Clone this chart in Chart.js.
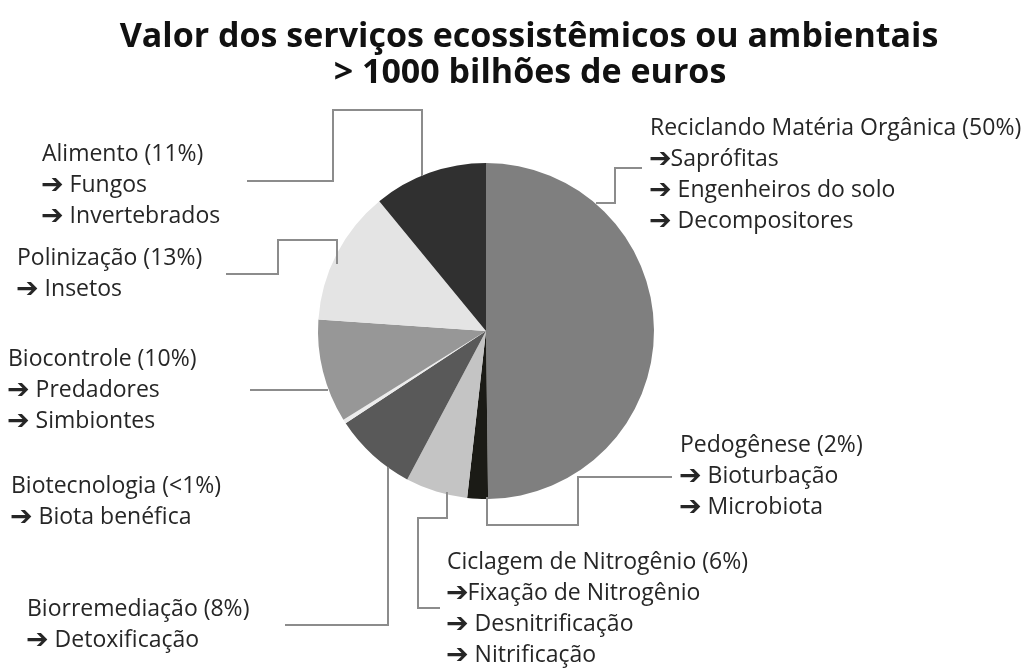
<!DOCTYPE html>
<html>
<head>
<meta charset="utf-8">
<script src="https://cdn.jsdelivr.net/npm/chart.js@4.4.1/dist/chart.umd.min.js"></script>
<style>
html,body{margin:0;padding:0;background:#fff;}
#wrap{width:1023px;height:668px;}
</style>
</head>
<body>
<div id="wrap"><canvas id="c" width="1023" height="668"></canvas></div>
<script>
// ---- data ----
const categories = [
  "Reciclando Matéria Orgânica",
  "Pedogênese",
  "Ciclagem de Nitrogênio",
  "Biorremediação",
  "Biotecnologia",
  "Biocontrole",
  "Polinização",
  "Alimento"
];
const percentLabels = ["50%", "2%", "6%", "8%", "<1%", "10%", "13%", "11%"];
const values = [50, 2, 6, 8, 0.4, 10, 13, 11];
const subItems = [
  ["Saprófitas", "Engenheiros do solo", "Decompositores"],
  ["Bioturbação", "Microbiota"],
  ["Fixação de Nitrogênio", "Desnitrificação", "Nitrificação"],
  ["Detoxificação"],
  ["Biota benéfica"],
  ["Predadores", "Simbiontes"],
  ["Insetos"],
  ["Fungos", "Invertebrados"]
];
const titleLines = ["Valor dos serviços ecossistêmicos ou ambientais", "> 1000 bilhões de euros"];

// ---- styles / layout ----
const sliceColors = ["#7f7f7f", "#1b1b16", "#c4c4c4", "#595959", "#ececec", "#979797", "#e4e4e4", "#303030"];
// label block anchors: [x, y of first line]
const labelPos = [
  [650, 128], [680, 445], [447, 562], [27, 609],
  [11, 486], [8, 359], [17, 258], [42, 154]
];
const noSpaceArrow = [[true, false, false], [false, false], [true, false, false], [false], [false], [false, false], [false], [false, false]];
// leader polylines, offsets relative to pie centre
const leaders = [
  [[156, -163], [129, -163], [129, -128], [110, -128]],
  [[186, 146], [92, 146], [92, 194], [1, 194], [1, 166]],
  [[-46, 277], [-68, 277], [-68, 187], [-39, 187], [-39, 161]],
  [[-201, 294], [-98, 294], [-98, 136]],
  [],
  [[-236, 59], [-158, 59]],
  [[-260, -57], [-208, -57], [-208, -91], [-149, -91], [-149, -67]],
  [[-239, -150], [-153, -150], [-153, -221], [-64, -221], [-64, -155]]
];

const FONT = "'Open Sans', 'DejaVu Sans', sans-serif";

const annotations = {
  id: 'annotations',
  afterDraw(chart) {
    const ctx = chart.ctx;
    const arc = chart.getDatasetMeta(0).data[0];
    const cx = arc.x, cy = arc.y;
    ctx.save();
    // title
    ctx.fillStyle = '#111';
    ctx.textAlign = 'center';
    ctx.textBaseline = 'middle';
    ctx.font = 'bold 34px ' + FONT;
    ctx.fillText(titleLines[0], 529, 37);
    ctx.fillText(titleLines[1], 530, 73);
    // leaders
    ctx.strokeStyle = '#8c8c8c';
    ctx.lineWidth = 2;
    ctx.lineJoin = 'miter';
    leaders.forEach(pts => {
      if (!pts.length) return;
      ctx.beginPath();
      pts.forEach((p, i) => {
        const x = cx + p[0], y = cy + p[1];
        if (i === 0) ctx.moveTo(x, y); else ctx.lineTo(x, y);
      });
      ctx.stroke();
    });
    // labels
    ctx.textAlign = 'left';
    ctx.fillStyle = '#262626';
    const lh = 31;
    categories.forEach((cat, i) => {
      const [x, y] = labelPos[i];
      ctx.font = '23px ' + FONT;
      ctx.fillText(cat + ' (' + percentLabels[i] + ')', x, y);
      subItems[i].forEach((s, j) => {
        const yy = y + lh * (j + 1);
        ctx.font = 'bold 27px "DejaVu Sans", sans-serif';
        ctx.fillText('\u2794', x - 1, yy + 1);
        const aw = ctx.measureText('\u2794').width;
        ctx.font = '23px ' + FONT;
        ctx.fillText(s, x + aw + (noSpaceArrow[i][j] ? -2 : 5), yy);
      });
    });
    ctx.restore();
  }
};

new Chart(document.getElementById('c'), {
  type: 'pie',
  data: {
    labels: categories,
    datasets: [{
      data: values,
      backgroundColor: sliceColors,
      borderWidth: 0,
      hoverOffset: 0,
      offset: 0
    }]
  },
  options: {
    responsive: false,
    animation: false,
    devicePixelRatio: 1,
    layout: { padding: { left: 318, right: 369, top: 163, bottom: 169 } },
    plugins: { legend: { display: false }, tooltip: { enabled: false }, title: { display: false } }
  },
  plugins: [annotations]
});
</script>
</body>
</html>
